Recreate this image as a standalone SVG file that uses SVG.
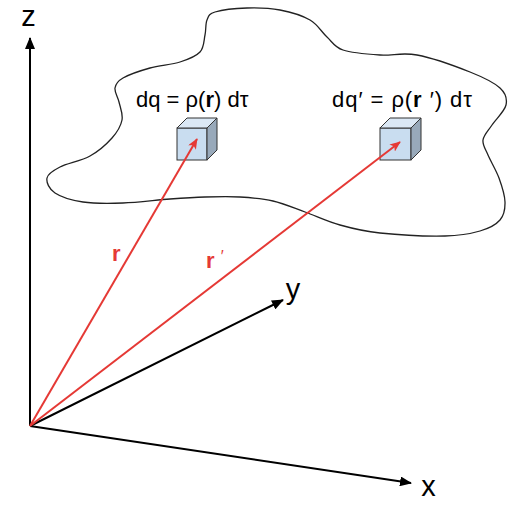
<svg xmlns="http://www.w3.org/2000/svg" width="529" height="519" viewBox="0 0 529 519">
<style>
.ax{stroke:#000;stroke-width:2;fill:none}
.rv{stroke:#e53935;stroke-width:2;fill:none}
.lbl{font-family:"Liberation Sans",Arial,sans-serif;fill:#000}
.eq{font-family:"Liberation Sans",Arial,sans-serif;font-size:22px;fill:#000}
.rl{font-family:"Liberation Sans",Arial,sans-serif;font-size:22px;font-weight:bold;fill:#e53935}
.front{fill:#c9ddf0;stroke:#333;stroke-width:1}
.top{fill:#dbe8f5;stroke:#333;stroke-width:1}
.side{fill:#98a9ba;stroke:#333;stroke-width:1}
</style>
<defs>
<marker id="ab" viewBox="0 0 12 10" refX="11" refY="5" markerWidth="12" markerHeight="10" markerUnits="userSpaceOnUse" orient="auto">
<path d="M0,0 L12,5 L0,10 Z" fill="#000"/>
</marker>
<marker id="ar" viewBox="0 0 12 10" refX="11" refY="5" markerWidth="11" markerHeight="9" markerUnits="userSpaceOnUse" orient="auto">
<path d="M0,0 L12,5 L0,10 L3,5 Z" fill="#e53935"/>
</marker>
</defs>
<g id="region">
<path d="M123,78 C128.83,74.67 140.5,70.67 150,68 C159.5,65.33 171.67,64.67 180,62 C188.33,59.33 195.83,56.5 200,52 C204.17,47.5 203.83,40.33 205,35 C206.17,29.67 205.33,23.83 207,20 C208.67,16.17 208.33,14 215,12 C221.67,10 236.17,8.33 247,8 C257.83,7.67 269.5,8 280,10 C290.5,12 302.17,15.5 310,20 C317.83,24.5 321.5,32 327,37 C332.5,42 334.17,47 343,50 C351.83,53 367.67,54.17 380,55 C392.33,55.83 402,52.17 417,55 C432,57.83 456.17,66.5 470,72 C483.83,77.5 494,82.5 500,88 C506,93.5 507.33,98.83 506,105 C504.67,111.17 495.83,119.17 492,125 C488.17,130.83 483.67,135 483,140 C482.33,145 485.33,148.67 488,155 C490.67,161.33 496.17,170.17 499,178 C501.83,185.83 504.83,195 505,202 C505.17,209 504.17,215.17 500,220 C495.83,224.83 489.17,228.33 480,231 C470.83,233.67 461.67,235.67 445,236 C428.33,236.33 397.5,234.83 380,233 C362.5,231.17 352.5,228.5 340,225 C327.5,221.5 316.17,216 305,212 C293.83,208 283.83,203.5 273,201 C262.17,198.5 251.33,197.67 240,197 C228.67,196.33 216.67,196.67 205,197 C193.33,197.33 183.67,198 170,199 C156.33,200 137.5,202.5 123,203 C108.5,203.5 94.33,203.67 83,202 C71.67,200.33 61,197 55,193 C49,189 46.17,182.33 47,178 C47.83,173.67 52.83,170.67 60,167 C67.17,163.33 81.33,160.83 90,156 C98.67,151.17 106.67,144 112,138 C117.33,132 120.83,126 122,120 C123.17,114 120.17,107.33 119,102 C117.83,96.67 114.33,92 115,88 C115.67,84 117.17,81.33 123,78 Z" fill="none" stroke="#222" stroke-width="1.3"/>
</g>
<g id="cube1">
<rect class="front" x="177" y="128" width="30" height="32"/>
<polygon class="top" points="177,128 187,118 217,118 207,128"/>
<polygon class="side" points="207,128 217,118 217,150 207,160"/>
</g>
<g id="cube2">
<rect class="front" x="380" y="128" width="31" height="32"/>
<polygon class="top" points="380,128 390,118 421,118 411,128"/>
<polygon class="side" points="411,128 421,118 421,150 411,160"/>
</g>
<g id="connectors">
<line id="z-axis" class="ax" x1="30" y1="426" x2="30" y2="38" marker-end="url(#ab)"/>
<line id="y-axis" class="ax" x1="30" y1="426" x2="283" y2="300" marker-end="url(#ab)"/>
<line id="x-axis" class="ax" x1="30" y1="426" x2="411" y2="483" marker-end="url(#ab)"/>
<line id="r" class="rv" x1="30" y1="426" x2="197" y2="139" marker-end="url(#ar)"/>
<line id="r-prime" class="rv" x1="30" y1="426" x2="400" y2="142" marker-end="url(#ar)"/>
</g>
<g id="labels">
<text class="lbl" x="28.5" y="26" font-size="29" text-anchor="middle">z</text>
<text class="lbl" x="293" y="299" font-size="29" text-anchor="middle">y</text>
<text class="lbl" x="428.5" y="496" font-size="29" text-anchor="middle">x</text>
<text class="eq" x="136" y="107">dq = ρ(<tspan font-weight="bold">r</tspan>) dτ</text>
<text class="eq" x="332" y="107" textLength="140" lengthAdjust="spacing">dq′ = ρ(<tspan font-weight="bold">r</tspan> ′) dτ</text>
<text class="rl" x="112" y="261">r</text>
<text class="rl" x="206" y="268">r <tspan font-weight="normal" font-size="16" dy="-6">′</tspan></text>
</g>
</svg>
